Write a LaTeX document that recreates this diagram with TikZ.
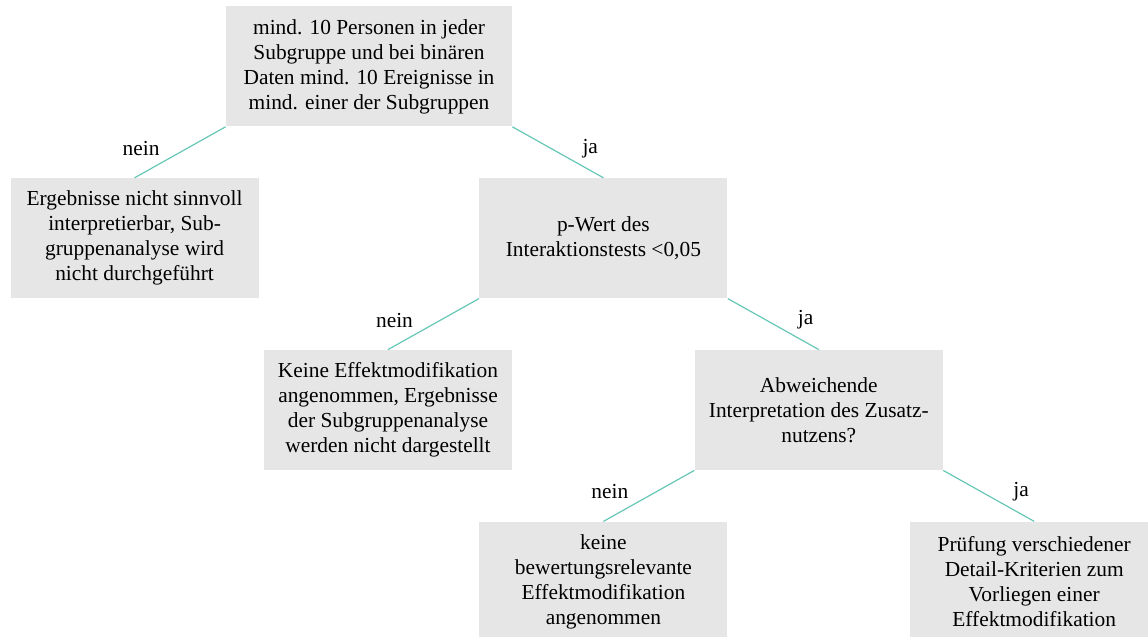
\documentclass[tikz,border=0pt]{standalone}
\usepackage{fontspec}
\setmainfont{Liberation Serif}
\usepackage{xcolor}
\usepackage{tikz}
\usetikzlibrary{positioning}
\definecolor{boxgray}{HTML}{E6E6E6}
\definecolor{linkteal}{HTML}{66C7B7}

\begin{document}
\begin{tikzpicture}[
    font=\fontsize{10.7}{12.5}\selectfont,
    block/.style={
        fill=boxgray,
        align=center,
        minimum width=124pt,
        minimum height=60pt,
        inner sep=2pt
    },
    line/.style={draw=linkteal, line width=0.6pt},
    lbl/.style={inner sep=0pt, yshift=2pt}
]

\clip (0,0) rectangle (574pt,318.5pt);

% --- Top ---
\node[block, minimum width=143pt, anchor=north] (crit) at (184.5pt,315.5pt)
    {mind. 10 Personen in jeder\\Subgruppe und bei binären\\Daten mind. 10 Ereignisse in\\mind. einer der Subgruppen};

% --- Level 1 ---
\node[block, below=25.5pt of crit.south west, xshift=-45.5pt] (skip)
    {Ergebnisse nicht sinnvoll\\interpretierbar, Sub-\\gruppenanalyse wird\\nicht durchgeführt};
\node[block, below=25.5pt of crit.south east, xshift=45.5pt] (pval)
    {p-Wert des\\Interaktionstests <0,05};

% --- Level 2 ---
\node[block, below=25.5pt of pval.south west, xshift=-45.5pt] (noeff)
    {Keine Effektmodifikation\\angenommen, Ergebnisse\\der Subgruppenanalyse\\werden nicht dargestellt};
\node[block, below=25.5pt of pval.south east, xshift=45.5pt] (abw)
    {Abweichende\\Interpretation des Zusatz-\\nutzens?};

% --- Level 3 ---
\node[block, below=25.5pt of abw.south west, xshift=-45.5pt] (keine)
    {keine\\bewertungsrelevante\\Effektmodifikation\\angenommen};
\node[block, below=25.5pt of abw.south east, xshift=45.5pt] (pruef)
    {Prüfung verschiedener\\Detail-Kriterien zum\\Vorliegen einer\\Effektmodifikation};

% --- Connections ---
\draw[line] (crit.south west) -- node[lbl, left=10pt]{nein} (skip.north);
\draw[line] (crit.south east) -- node[lbl, right=12pt]{ja} (pval.north);

\draw[line] (pval.south west) -- node[lbl, left=10pt]{nein} (noeff.north);
\draw[line] (pval.south east) -- node[lbl, right=12pt]{ja} (abw.north);

\draw[line] (abw.south west) -- node[lbl, left=10pt]{nein} (keine.north);
\draw[line] (abw.south east) -- node[lbl, right=12pt]{ja} (pruef.north);

\end{tikzpicture}
\end{document}
